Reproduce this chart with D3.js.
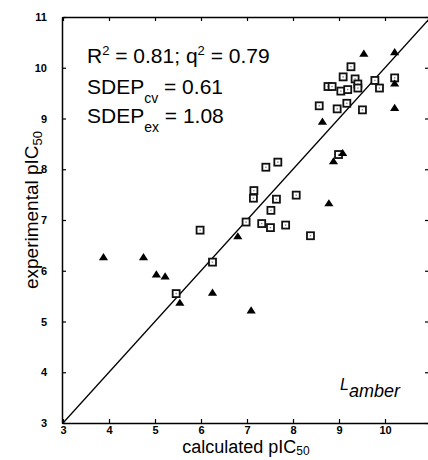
<!DOCTYPE html>
<html>
<head>
<meta charset="utf-8">
<script src="https://cdn.jsdelivr.net/npm/d3@7"></script>
<style>
  body { margin: 0; background: #fff; }
  svg { display: block; font-family: "Liberation Sans", Arial, sans-serif; }
</style>
</head>
<body>
<svg width="428" height="460"></svg>
<script>
// tick values for both axes
const tickValues = [3, 4, 5, 6, 7, 8, 9, 10, 11];

// open squares: training set (calculated, experimental)
const squareCalc = [9.26, 9.09, 9.35, 9.78, 10.21, 9.88, 9.41, 9.41, 8.76, 8.85, 9.04, 9.19, 9.17, 8.57, 8.96, 9.51,
  8.99, 7.41, 7.67, 7.15, 7.14, 7.64, 8.07, 7.52, 6.98, 7.32, 7.51, 7.84, 8.38, 5.98, 6.25, 5.46];
const squareExp = [10.02, 9.82, 9.78, 9.75, 9.80, 9.60, 9.68, 9.60, 9.63, 9.63, 9.54, 9.57, 9.30, 9.25, 9.19, 9.17,
  8.29, 8.04, 8.14, 7.58, 7.43, 7.41, 7.49, 7.19, 6.96, 6.93, 6.85, 6.90, 6.69, 6.80, 6.17, 5.55];

// filled triangles: test set
const triCalc = [9.54, 10.21, 10.21, 10.21, 8.64, 9.08, 8.88, 8.78, 6.80, 3.88, 4.75, 5.03, 5.22, 5.54, 6.25, 7.09];
const triExp = [10.27, 10.30, 9.68, 9.20, 8.93, 8.31, 8.15, 7.32, 6.67, 6.26, 6.26, 5.92, 5.88, 5.36, 5.56, 5.21];

const svg = d3.select('svg');

const x = d3.scaleLinear().domain([3, 11]).range([63, 431]);
const y = d3.scaleLinear().domain([3, 11]).range([423, 17]);

// frame + ticks (all ticks point inward)
const styleAxis = g => {
  g.select('.domain').attr('stroke', '#000').attr('stroke-width', 1.5);
  g.selectAll('.tick line').attr('stroke', '#000').attr('stroke-width', 1.2);
  g.selectAll('.tick text')
    .attr('font-family', '"Liberation Sans", Arial, sans-serif')
    .attr('font-size', 11)
    .attr('font-weight', 'bold')
    .attr('fill', '#000');
};

svg.append('g')
  .attr('transform', 'translate(0,423)')
  .call(d3.axisBottom(x).tickValues(tickValues.slice(0, -1)).tickSize(-4).tickSizeOuter(0).tickPadding(3))
  .call(styleAxis);

svg.append('g')
  .attr('transform', 'translate(62,0)')
  .call(d3.axisLeft(y).tickValues(tickValues).tickSize(-4).tickSizeOuter(0).tickPadding(15))
  .call(styleAxis);

svg.append('g')
  .attr('transform', 'translate(0,17)')
  .call(d3.axisTop(x).tickValues(tickValues).tickSize(-4).tickSizeOuter(0).tickFormat(''))
  .call(styleAxis);

svg.append('g')
  .attr('transform', 'translate(431,0)')
  .call(d3.axisRight(y).tickValues(tickValues).tickSize(-6).tickSizeOuter(0).tickFormat(''))
  .call(styleAxis);

// y = x line
svg.append('line')
  .attr('x1', x(3)).attr('y1', y(3))
  .attr('x2', x(11)).attr('y2', y(11))
  .attr('stroke', '#000')
  .attr('stroke-width', 1.3);

// squares
const sq = svg.append('g')
  .selectAll('g')
  .data(squareCalc.map((c, i) => [c, squareExp[i]]))
  .join('g')
  .attr('transform', d => `translate(${x(d[0])},${y(d[1])})`);
sq.append('rect')
  .attr('x', -3.5).attr('y', -3.5)
  .attr('width', 7).attr('height', 7)
  .attr('fill', '#fff')
  .attr('stroke', '#111')
  .attr('stroke-width', 1.8);
sq.append('rect')
  .attr('x', -0.7).attr('y', -0.7)
  .attr('width', 1.4).attr('height', 1.4)
  .attr('fill', '#888');

// triangles
svg.append('g')
  .selectAll('path')
  .data(triCalc.map((c, i) => [c, triExp[i]]))
  .join('path')
  .attr('transform', d => `translate(${x(d[0])},${y(d[1])})`)
  .attr('d', 'M0,-4.5L4.6,2.6L-4.6,2.6Z')
  .attr('fill', '#000');

// statistics text
const stats = svg.append('text')
  .attr('font-size', 21)
  .attr('fill', '#000');
const l1 = stats.append('tspan').attr('x', 87).attr('y', 63);
l1.append('tspan').text('R');
l1.append('tspan').attr('font-size', 13).attr('dy', -8).text('2');
l1.append('tspan').attr('dy', 8).text(' = 0.81; q');
l1.append('tspan').attr('font-size', 13).attr('dy', -8).text('2');
l1.append('tspan').attr('dy', 8).text(' = 0.79');

const l2 = stats.append('tspan').attr('x', 87).attr('y', 94);
l2.append('tspan').text('SDEP');
l2.append('tspan').attr('font-size', 14).attr('dy', 9).text('cv');
l2.append('tspan').attr('dy', -9).text(' = 0.61');

const l3 = stats.append('tspan').attr('x', 87).attr('y', 123);
l3.append('tspan').text('SDEP');
l3.append('tspan').attr('font-size', 14).attr('dy', 9).text('ex');
l3.append('tspan').attr('dy', -9).text(' = 1.08');

// L_amber label
const lab = svg.append('text')
  .attr('x', 340).attr('y', 390)
  .attr('font-style', 'italic')
  .attr('fill', '#000');
lab.append('tspan').attr('font-size', 16).text('L');
lab.append('tspan').attr('font-size', 18).attr('dy', 7).text('amber');

// axis titles
const xt = svg.append('text')
  .attr('x', 246).attr('y', 453)
  .attr('text-anchor', 'middle')
  .attr('font-size', 18)
  .attr('fill', '#000');
xt.append('tspan').text('calculated pIC');
xt.append('tspan').attr('font-size', 12).attr('dy', 2).text('50');

const yt = svg.append('text')
  .attr('transform', 'translate(38,210) rotate(-90)')
  .attr('text-anchor', 'middle')
  .attr('font-size', 19)
  .attr('fill', '#000');
yt.append('tspan').text('experimental pIC');
yt.append('tspan').attr('font-size', 13).attr('dy', 4).text('50');
</script>
</body>
</html>
